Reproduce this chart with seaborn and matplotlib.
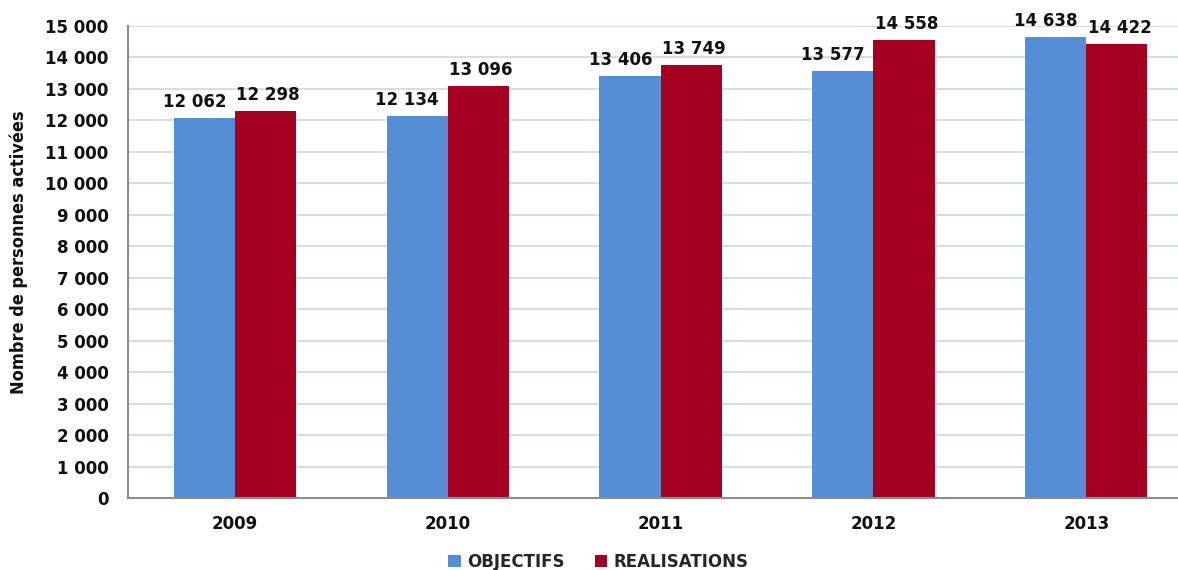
import matplotlib
matplotlib.use("Agg")
import matplotlib.pyplot as plt
import seaborn as sns
import pandas as pd
from matplotlib.patches import Patch
from matplotlib.ticker import FuncFormatter, FixedLocator
from matplotlib.transforms import offset_copy

years = ["2009", "2010", "2011", "2012", "2013"]
objectifs = [12062, 12134, 13406, 13577, 14638]
realisations = [12298, 13096, 13749, 14558, 14422]
series_names = ["OBJECTIFS", "REALISATIONS"]
y_ticks = list(range(0, 15001, 1000))

colors = ["#558ED5", "#A50021"]

df = pd.DataFrame({
    "annee": years * 2,
    "valeur": objectifs + realisations,
    "serie": [series_names[0]] * len(years) + [series_names[1]] * len(years),
})

sns.set_theme(style="white")
plt.rcParams["font.family"] = ["DejaVu Sans"]

fig = plt.figure(figsize=(11.78, 5.70), dpi=100)
# plot area runs slightly past the right edge of the canvas
ax = fig.add_axes([0.1087, 0.1263, 0.904, 0.8281])

sns.barplot(data=df, x="annee", y="valeur", hue="serie", palette=colors,
            width=0.573, gap=0, ax=ax, legend=False, saturation=1)

fmt = lambda v: f"{int(round(v)):,}".replace(",", " ")

# value labels, nudged apart horizontally so neighbours do not collide
label_shift_pts = [-7, 2]
for cont, dx in zip(ax.containers, label_shift_pts):
    trans = offset_copy(ax.transData, fig=fig, x=dx, y=0, units="points")
    for bar in cont:
        bar.set_edgecolor("none")
        h = bar.get_height()
        ax.text(bar.get_x() + bar.get_width() / 2, h + 230, fmt(h),
                ha="center", va="bottom", fontsize=12, fontweight="bold",
                color="#111111", clip_on=False, transform=trans)

ax.set_ylim(0, 15000)
ax.set_xlim(-0.5, len(years) - 0.5)
ax.yaxis.set_major_locator(FixedLocator(y_ticks))
ax.yaxis.set_major_formatter(FuncFormatter(lambda v, p: fmt(v)))
ax.grid(axis="y", color="#C9D7EC", linewidth=1.2)
ax.set_axisbelow(True)

for side in ["top", "right"]:
    ax.spines[side].set_visible(False)
for side in ["left", "bottom"]:
    ax.spines[side].set_color("#8C8C8C")
    ax.spines[side].set_linewidth(1.5)

ax.tick_params(axis="y", which="major", length=5, width=1, color="#BFBFBF",
               direction="out", labelsize=12, pad=9)
ax.tick_params(axis="x", which="major", length=0, labelsize=12, pad=12)
ax.set_xticks(range(len(years)), minor=False)
ax.set_xticks([i - 0.5 for i in range(len(years) + 1)], minor=True)
ax.tick_params(axis="x", which="minor", length=6, width=1.2, color="#8C8C8C",
               direction="out")
for lbl in ax.get_xticklabels() + ax.get_yticklabels():
    lbl.set_fontweight("bold")
    lbl.set_color("#111111")

ax.set_xlabel("")
ax.set_ylabel("Nombre de personnes activées", fontsize=13, fontweight="bold",
              fontstretch="condensed", color="#111111")
ax.yaxis.set_label_coords(-0.094, 0.52)

handles = [Patch(facecolor=c, edgecolor="none") for c in colors]
fig.legend(handles, series_names, loc="lower center", bbox_to_anchor=(0.508, -0.028),
           ncol=2, frameon=False, handlelength=0.75, handleheight=0.75,
           handletextpad=0.4, columnspacing=1.8,
           prop={"weight": "bold", "size": 12})

fig.savefig("out.png", dpi=100)
